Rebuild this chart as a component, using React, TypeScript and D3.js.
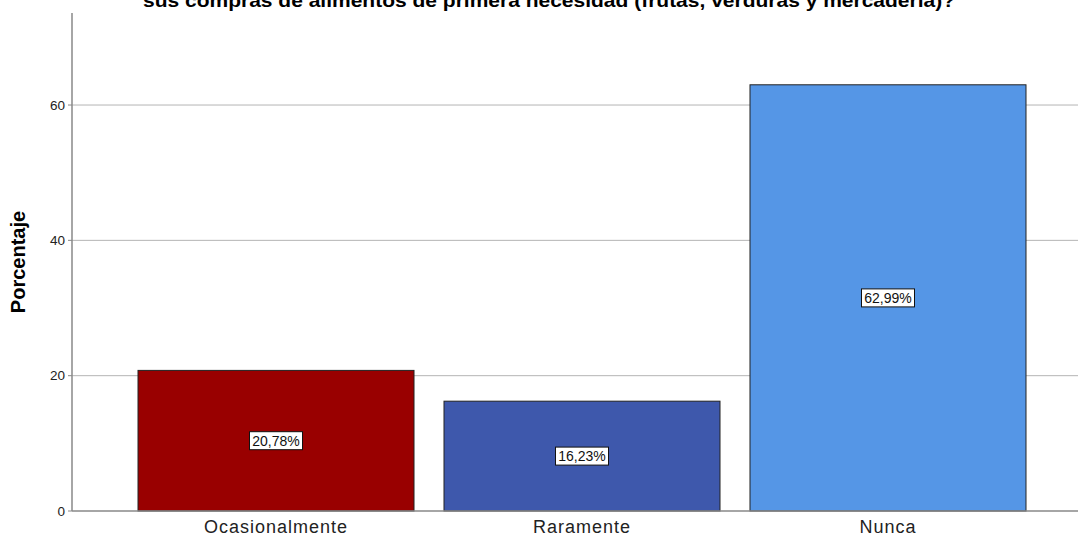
import React from "react";
import * as d3 from "d3";

const categories: string[] = ["Ocasionalmente", "Raramente", "Nunca"];
const percentages: number[] = [20.78, 16.23, 62.99];
const barColors: string[] = ["#990000", "#3E58AC", "#5596E6"];
const yTicks: number[] = [0, 20, 40, 60];
const titleText = "¿Con qué frecuencia utiliza el comercio electrónico para realizar sus compras de alimentos de primera necesidad (frutas, verduras y mercadería)?";
const titleVisibleLine = "sus compras de alimentos de primera necesidad (frutas, verduras y mercadería)?";

const W = 1078;
const H = 540;

export default function App() {
  const left = 72;
  const bottom = 511;
  const top = 13;

  const y = d3.scaleLinear().domain([0, 73.6]).range([bottom, top]);
  const x = d3
    .scaleBand<string>()
    .domain(categories)
    .range([left, 1092])
    .paddingInner(0.098)
    .paddingOuter(0.2157);

  const fmt = (v: number) => v.toFixed(2).replace(".", ",") + "%";

  return (
    <svg
      width={W}
      height={H}
      style={{ position: "absolute", left: 0, top: 0, background: "#fff" }}
      fontFamily="Arial, 'Liberation Sans', sans-serif"
    >
      <title>{titleText}</title>
      {/* title: only its last line sits inside the frame */}
      <text
        x={143}
        y={7}
        fontSize={19}
        fontWeight="bold"
        fill="#000"
        textLength={812}
        lengthAdjust="spacingAndGlyphs"
      >
        {titleVisibleLine}
      </text>

      {/* gridlines */}
      {yTicks.filter((t) => t > 0).map((t) => (
        <line
          key={t}
          x1={left}
          x2={W}
          y1={y(t)}
          y2={y(t)}
          stroke="#b4b4b4"
          strokeWidth={1}
        />
      ))}

      {/* bars */}
      {categories.map((c, i) => (
        <rect
          key={c}
          x={x(c)!}
          y={y(percentages[i])}
          width={x.bandwidth()}
          height={bottom - y(percentages[i])}
          fill={barColors[i]}
          stroke="#222"
          strokeWidth={1}
        />
      ))}

      {/* axes */}
      <line x1={left} x2={left} y1={top} y2={bottom} stroke="#888" strokeWidth={1.5} />
      <line x1={left} x2={W} y1={bottom} y2={bottom} stroke="#888" strokeWidth={1.5} />

      {yTicks.map((t) => (
        <g key={t}>
          <line x1={left - 4} x2={left} y1={y(t)} y2={y(t)} stroke="#888" />
          <text
            x={left - 7}
            y={y(t)}
            dy="0.35em"
            textAnchor="end"
            fontSize={13.5}
            fill="#222"
          >
            {t}
          </text>
        </g>
      ))}

      {categories.map((c) => (
        <text
          key={c}
          x={x(c)! + x.bandwidth() / 2}
          y={533}
          textAnchor="middle"
          fontSize={18}
          letterSpacing={1}
          fill="#222"
        >
          {c}
        </text>
      ))}

      <text
        transform={`translate(25,262) rotate(-90)`}
        textAnchor="middle"
        fontSize={20}
        fontWeight="bold"
        fill="#000"
      >
        Porcentaje
      </text>

      {/* value labels */}
      {categories.map((c, i) => {
        const cx = x(c)! + x.bandwidth() / 2;
        const cy = y(percentages[i] / 2);
        const bw = 53;
        const bh = 18;
        return (
          <g key={c}>
            <rect
              x={cx - bw / 2}
              y={cy - bh / 2}
              width={bw}
              height={bh}
              fill="#fff"
              stroke="#111"
              strokeWidth={1}
            />
            <text
              x={cx}
              y={cy}
              dy="0.36em"
              textAnchor="middle"
              fontSize={14}
              fill="#111"
            >
              {fmt(percentages[i])}
            </text>
          </g>
        );
      })}
    </svg>
  );
}
